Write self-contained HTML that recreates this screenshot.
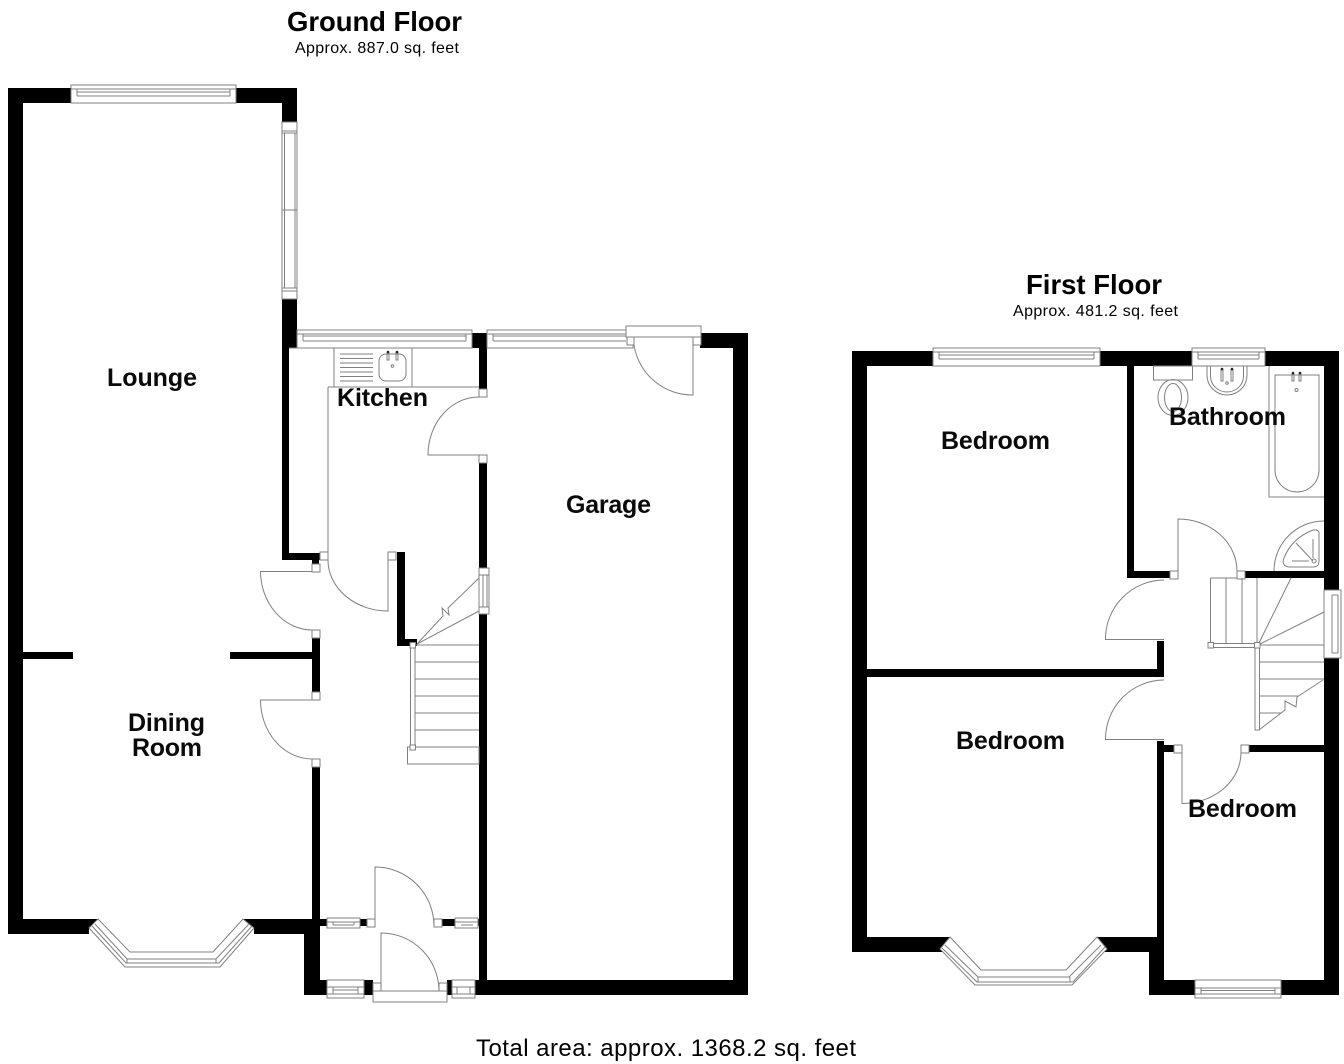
<!DOCTYPE html>
<html><head><meta charset="utf-8"><style>
html,body{margin:0;padding:0;background:#fff}
svg{display:block}
.w{fill:#000;stroke:none}
.l{fill:#fff;stroke:#808080;stroke-width:1}
.n{fill:none;stroke:#808080;stroke-width:1}
text{font-family:"Liberation Sans",sans-serif;fill:#000}
.b{font-weight:bold;font-size:25px;fill:#0a0a0a}
.h{font-weight:bold;font-size:27.5px}
.s{font-size:16px}
</style></head><body>
<svg width="1344" height="1064" viewBox="0 0 1344 1064" xmlns="http://www.w3.org/2000/svg">
<!-- GROUND FLOOR WALLS -->
<g class="w">
<rect x="8" y="88" width="15" height="846"/>
<rect x="8" y="88" width="289" height="15"/>
<rect x="282" y="88" width="15" height="40"/>
<rect x="282" y="295" width="15" height="53"/>
<rect x="282" y="340" width="7" height="220"/>
<rect x="282" y="553" width="39" height="7"/>
<rect x="312" y="553" width="7" height="15"/>
<rect x="312" y="634" width="8" height="62"/>
<rect x="23" y="652" width="50" height="7"/>
<rect x="230" y="652" width="85" height="7"/>
<rect x="312" y="763" width="8" height="160"/>
<polygon points="8,919 99,919 89,928 89,934 8,934"/>
<polygon points="243,919 320,919 320,934 254,934 254,928"/>
<rect x="304" y="919" width="16" height="76"/>
<rect x="304" y="980" width="69" height="15"/>
<rect x="320" y="919" width="47" height="7"/>
<rect x="442" y="919" width="45" height="7"/>
<rect x="447" y="980" width="301" height="15"/>
<rect x="479" y="340" width="8" height="52"/>
<rect x="472" y="333" width="15" height="15"/>
<rect x="479" y="459" width="8" height="536"/>
<rect x="700" y="333" width="48" height="15"/>
<rect x="733" y="333" width="15" height="662"/>
<rect x="397" y="552" width="8" height="94"/>
<rect x="397" y="639" width="20" height="7"/>
</g>
<!-- lounge windows -->
<rect class="l" x="71" y="85" width="165" height="18"/>
<path class="n" d="M71 89H236M77 92H230M77 96H230M77 89V96M230 89V96"/>
<rect class="l" x="282" y="122" width="15" height="177"/>
<path class="n" d="M282 131H297M282 133H297M282 288H297M282 291H297M282 210H297M284.500 133V288M295 133V288"/>
<!-- kitchen window -->
<rect class="l" x="297" y="330" width="175" height="18"/>
<path class="n" d="M289 348H297M297 334H472M303 336H466M303 341H466M303 334V341M466 334V341"/>
<!-- garage window and door -->
<rect class="l" x="487" y="330" width="146" height="18"/>
<path class="n" d="M487 334H632M493 336H626M493 341H626M493 334V341"/>
<rect class="l" x="626" y="326" width="75" height="11"/>
<rect class="l" x="627" y="337" width="7" height="8"/>
<rect class="l" x="693" y="337" width="8" height="8"/>
<path class="n" d="M693 337V395A59 59 0 0 1 634 345"/>
<!-- kitchen -->
<path class="n" d="M328 387H479M328 387V553M334 348V387M412 348V387"/>
<path class="n" d="M340 354H373M340 358.500H373M340 363H373M340 367.500H373M340 372H373M340 376.500H373M340 381H373"/>
<rect class="n" x="379" y="354" width="27" height="27" rx="7"/>
<path class="n" d="M387 353V360H389V353ZM396 353V360H398V353Z"/>
<circle cx="388" cy="352" r="1.300" fill="#222"/><circle cx="397" cy="352" r="1.300" fill="#222"/>
<circle cx="392.500" cy="366" r="1.300" class="n"/>
<!-- kitchen/garage door -->
<rect class="l" x="479" y="389" width="8" height="8"/>
<rect class="l" x="479" y="455" width="8" height="8"/>
<path class="n" d="M479 397A51 58 0 0 0 428 455H479"/>
<!-- kitchen/hall door -->
<rect class="l" x="320" y="552" width="8" height="8"/>
<rect class="l" x="388" y="552" width="8" height="8"/>
<path class="n" d="M328 560A60 51 0 0 0 388 611V560"/>
<!-- lounge door -->
<rect class="l" x="312" y="564" width="8" height="8"/>
<rect class="l" x="312" y="630" width="8" height="8"/>
<path class="n" d="M312 571.500H260.500A52 59 0 0 0 312 630"/>
<!-- dining door -->
<rect class="l" x="312" y="692" width="8" height="8"/>
<rect class="l" x="312" y="759" width="8" height="8"/>
<path class="n" d="M312 700H260.500A52 59 0 0 0 312 759"/>
<!-- stairs -->
<rect class="l" x="479" y="568" width="10" height="46"/>
<path class="n" d="M479 575H489M479 607H489M483 575V607M487 575V607"/>
<path class="n" d="M417 644L443 616L442 608L449 615L448 608L479 578M417 644L479 611"/>
<path class="n" d="M415 645H479M415 662H479M415 679H479M415 696H479M415 713H479M415 730H479M415 747H479"/>
<rect class="n" x="407.500" y="747" width="71.500" height="17"/>
<rect class="l" x="410.500" y="645" width="4.500" height="102"/>
<rect class="l" x="410" y="642.500" width="5.500" height="5.500"/>
<rect class="l" x="410" y="745" width="5.500" height="5"/>
<!-- entrance -->
<rect class="l" x="327" y="918" width="33" height="10"/>
<path class="n" d="M327 922H360M333 925H354M333 922V925M354 922V925"/>
<rect class="l" x="455" y="918" width="23" height="10"/>
<path class="n" d="M455 922H478M461 925H473"/>
<rect class="l" x="367" y="919" width="8" height="8"/>
<rect class="l" x="434" y="919" width="8" height="8"/>
<path class="n" d="M375 926V867A59 59 0 0 1 434 926"/>
<rect class="l" x="327" y="980" width="37" height="18"/>
<path class="n" d="M327 987H364M333 990H358M333 994H358M327 994H364M333 987V994M358 987V994"/>
<rect class="l" x="452" y="980" width="23" height="18"/>
<path class="n" d="M452 987H475M457 994H470M452 994H475M457 987V994M470 987V994"/>
<rect class="l" x="373" y="983" width="8" height="8"/>
<rect class="l" x="439" y="983" width="8" height="8"/>
<path class="n" d="M381 991V933A58 58 0 0 1 439 991"/>
<rect class="l" x="373" y="991" width="74" height="11"/>
<!-- lounge bay -->
<polygon class="l" points="98,919 130,952 213,952 243,919 254,928 220,967 125,967 89,928"/>
<path class="n" d="M92 926L126 963H219L252 926M95 924L127 959H216L249 924M127 959V963M216 959V963"/>

<!-- FIRST FLOOR WALLS -->
<g class="w">
<rect x="852" y="351" width="487" height="15"/>
<rect x="852" y="351" width="15" height="601"/>
<rect x="1324" y="351" width="15" height="644"/>
<polygon points="852,937 950,937 940,949 943,952 852,952"/>
<polygon points="1097,937 1164,937 1164,952 1104,952 1107,949"/>
<rect x="1127" y="366" width="7" height="212"/>
<rect x="1127" y="571" width="48" height="7"/>
<rect x="1241" y="571" width="83" height="7"/>
<rect x="867" y="669" width="297" height="8"/>
<rect x="1157" y="641" width="7" height="36"/>
<rect x="1157" y="741" width="7" height="254"/>
<rect x="1157" y="745" width="20" height="7"/>
<rect x="1245" y="745" width="79" height="7"/>
<rect x="1149" y="937" width="15" height="58"/>
<rect x="1149" y="980" width="190" height="15"/>
</g>
<!-- upstairs windows -->
<rect class="l" x="933" y="348" width="167" height="18"/>
<path class="n" d="M933 352H1100M939 355H1094M939 359H1094M939 352V359M1094 352V359"/>
<rect class="l" x="1192" y="348" width="73" height="18"/>
<path class="n" d="M1192 352H1265M1198 355H1259M1198 359H1259M1198 352V359M1259 352V359"/>
<rect class="l" x="1324" y="590" width="17" height="68"/>
<path class="n" d="M1332 595V653M1338 595V653M1332 595H1338M1332 653H1338"/>
<rect class="l" x="1195" y="980" width="86" height="18"/>
<path class="n" d="M1195 988H1281M1201 990.500H1275M1201 994H1275M1195 994H1281M1201 988V994M1275 988V994"/>
<!-- upper bay -->
<polygon class="l" points="950,937 981,970 1066,970 1097,937 1107,949 1072,985 975,985 940,949"/>
<path class="n" d="M942 948L977 982H1073L1105 947M945 945L978 977H1069L1101 945M978 977V982M1070 977V982"/>
<!-- bathroom -->
<rect class="n" x="1153.500" y="366" width="39" height="14"/>
<ellipse class="n" cx="1173" cy="397.500" rx="15" ry="18"/>
<ellipse class="n" cx="1173" cy="397.500" rx="8.500" ry="14"/>
<path class="n" d="M1207 366V375A20 20 0 0 0 1247 375V366"/>
<path class="n" d="M1210.500 366V376A16.500 16 0 0 0 1243.500 376V366"/>
<path class="n" d="M1221 370V381H1223V370ZM1231 370V381H1233V370Z"/>
<circle cx="1222" cy="369" r="1.300" fill="#222"/><circle cx="1232" cy="369" r="1.300" fill="#222"/>
<circle class="n" cx="1227" cy="383" r="1.300"/>
<path class="n" d="M1269 366V497H1324"/>
<path class="n" d="M1275 375H1319V470A22 22 0 0 1 1275 470Z"/>
<path class="n" d="M1292 374V381H1294V374ZM1299 374V381H1301V374Z"/>
<circle cx="1293" cy="373" r="1.300" fill="#222"/><circle cx="1300" cy="373" r="1.300" fill="#222"/>
<circle class="n" cx="1296.500" cy="390" r="1.500"/>
<path class="n" d="M1324 521A50 50 0 0 0 1274 571"/>
<path class="n" d="M1313 530Q1320 529 1319 535V561Q1319 567 1313 567H1289Q1281 566 1284 558Q1292 538 1313 530Z"/>
<path class="n" d="M1296 543L1313 561M1313 539V558M1292 561H1309"/>
<circle class="n" cx="1314" cy="561" r="2"/>
<!-- bathroom door -->
<rect class="l" x="1170" y="571" width="8" height="8"/>
<rect class="l" x="1237" y="571" width="8" height="8"/>
<path class="n" d="M1178 571V519A59 52 0 0 1 1237 571"/>
<!-- bedroom 1 door -->
<path class="n" d="M1164 580A59 59 0 0 0 1105.500 639.500H1164"/>
<!-- bedroom 2 door -->
<path class="n" d="M1164 680A59 59 0 0 0 1105.500 739.500H1164"/>
<!-- bedroom 3 door -->
<rect class="l" x="1174" y="745" width="8" height="8"/>
<rect class="l" x="1241" y="745" width="8" height="8"/>
<path class="n" d="M1182 753V803.500A59 51 0 0 0 1241 753"/>
<!-- upstairs stairs -->
<path class="n" d="M1210.500 578H1237M1210.500 578V645M1226 578V645M1242 578V645M1257 578V645"/>
<path class="n" d="M1258 645L1291 578M1258 645L1324 612"/>
<path class="n" d="M1259 645H1324M1259 662H1324M1259 679H1324M1259 696H1298M1259 713H1281"/>
<path class="n" d="M1259 730L1285 710L1285 701L1296 707L1297 697L1323 680"/>
<rect class="l" x="1210" y="643.500" width="47" height="4"/>
<rect class="l" x="1255" y="645" width="4.500" height="85"/>
<rect class="l" x="1208" y="642.500" width="5.500" height="5.500"/>
<rect class="l" x="1254.500" y="642.500" width="5.500" height="5.500"/>
<!-- LABELS -->
<text class="h" x="374.500" y="31" text-anchor="middle" textLength="175">Ground Floor</text>
<text class="s" x="295" y="53" textLength="164">Approx. 887.0 sq. feet</text>
<text class="h" x="1094" y="294" text-anchor="middle" textLength="136">First Floor</text>
<text class="s" x="1013" y="316" textLength="165">Approx. 481.2 sq. feet</text>
<text class="b" x="107" y="386" textLength="90">Lounge</text>
<text class="b" x="337" y="406" textLength="91">Kitchen</text>
<text class="b" x="566" y="513" textLength="85">Garage</text>
<text class="b" x="128" y="731" textLength="77">Dining</text>
<text class="b" x="132" y="756" textLength="70">Room</text>
<text class="b" x="941" y="449" textLength="109">Bedroom</text>
<text class="b" x="1169" y="425" textLength="117">Bathroom</text>
<text class="b" x="956" y="749" textLength="109">Bedroom</text>
<text class="b" x="1188" y="817" textLength="109">Bedroom</text>
<text x="476" y="1056" font-size="24" textLength="380">Total area: approx. 1368.2 sq. feet</text>
</svg>
</body></html>
